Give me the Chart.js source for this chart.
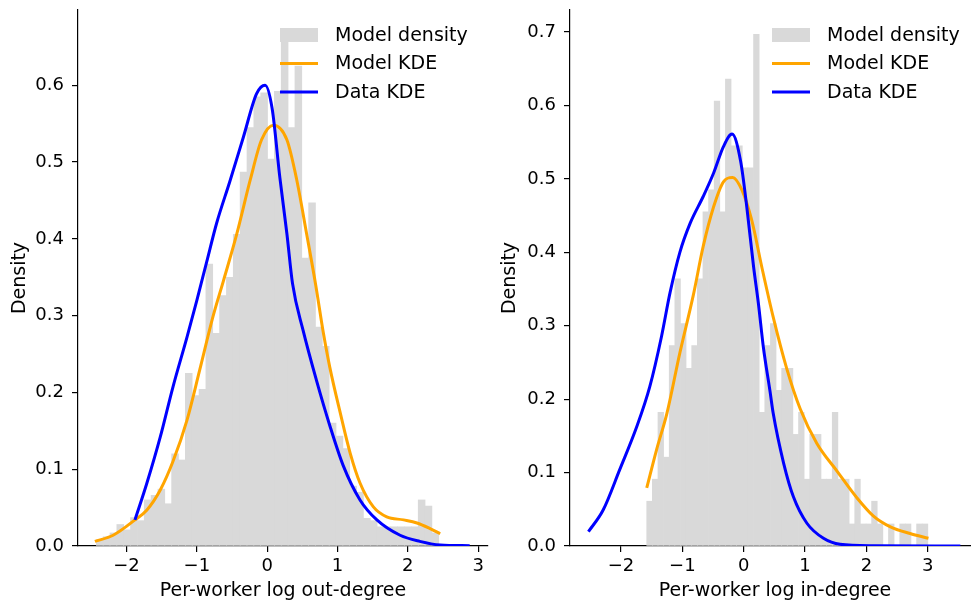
<!DOCTYPE html>
<html>
<head>
<meta charset="utf-8">
<script src="https://cdn.jsdelivr.net/npm/chart.js@4.4.1/dist/chart.umd.min.js"></script>
<style>
  html, body { margin: 0; padding: 0; background: #fff; overflow: hidden; }
  #wrap { position: relative; width: 971px; height: 606px; overflow: hidden; }
  #outChart { position: absolute; left: 0; top: 0; }
  #inChart { position: absolute; left: 490px; top: 0; }
</style>
</head>
<body>
<div id="wrap">
  <canvas id="outChart" width="490" height="606"></canvas>
  <canvas id="inChart" width="492" height="606"></canvas>
</div>
<script>
// left panel: log out-degree
var outBinStart = -2.43;
var outBinWidth = 0.0974;
var outDensity = [0.008, 0.012, 0.017, 0.028, 0.021, 0.037, 0.033, 0.060, 0.066, 0.074,
    0.055, 0.120, 0.112, 0.225, 0.196, 0.204, 0.367, 0.277, 0.326, 0.350,
    0.406, 0.487, 0.545, 0.585, 0.590, 0.504, 0.592, 0.665, 0.545, 0.625,
    0.375, 0.447, 0.285, 0.260, 0.160, 0.143, 0.127, 0.078, 0.070, 0.036,
    0.033, 0.025, 0.025, 0.025, 0.025, 0.025, 0.025, 0.060, 0.052, 0.017];
var outModelKdeX = [-2.45, -2.19, -1.88, -1.71, -1.52, -1.34, -1.14, -0.96, -0.77, -0.62, -0.43, -0.24,
    -0.08, 0.09, 0.28, 0.42, 0.56, 0.69, 0.80, 0.89, 1.04, 1.18, 1.32, 1.51, 1.70, 1.94, 2.13, 2.31, 2.46];
var outModelKdeY = [0.006, 0.014, 0.034, 0.047, 0.073, 0.110, 0.164, 0.229, 0.299, 0.346, 0.407, 0.477,
    0.529, 0.548, 0.529, 0.477, 0.407, 0.340, 0.277, 0.233, 0.173, 0.121, 0.082, 0.051, 0.038, 0.034, 0.030, 0.023, 0.016];
var outDataKdeX = [-1.88, -1.71, -1.52, -1.34, -1.14, -1.00, -0.86, -0.72, -0.53, -0.34, -0.15, -0.03,
    0.07, 0.18, 0.28, 0.36, 0.51, 0.70, 0.89, 1.08, 1.32, 1.56, 1.89, 2.17, 2.46, 2.88];
var outDataKdeY = [0.034, 0.082, 0.142, 0.207, 0.272, 0.320, 0.370, 0.420, 0.475, 0.532, 0.589, 0.600,
    0.570, 0.480, 0.407, 0.342, 0.281, 0.216, 0.157, 0.105, 0.060, 0.034, 0.014, 0.006, 0.0013, 0.0004];
var outXTicks = [-2, -1, 0, 1, 2, 3];
var outYTicks = [0, 0.1, 0.2, 0.3, 0.4, 0.5, 0.6];

// right panel: log in-degree
var inBinStart = -1.58;
var inBinWidth = 0.0916;
var inDensity = [0.061, 0.091, 0.182, 0.121, 0.273, 0.364, 0.303, 0.242, 0.273, 0.364,
    0.455, 0.485, 0.606, 0.455, 0.636, 0.545, 0.545, 0.515, 0.515, 0.697,
    0.182, 0.273, 0.303, 0.212, 0.242, 0.242, 0.152, 0.182, 0.091, 0.152,
    0.152, 0.091, 0.091, 0.182, 0.091, 0.091, 0.030, 0.091, 0.030, 0.030,
    0.061, 0.030, 0, 0.030, 0, 0.030, 0.030, 0, 0.030, 0.030];
var inModelKdeX = [-1.58, -1.42, -1.25, -1.04, -0.82, -0.66, -0.49, -0.33, -0.18, -0.03, 0.13, 0.30,
    0.48, 0.70, 0.92, 1.19, 1.52, 1.84, 2.11, 2.39, 2.71, 3.01];
var inModelKdeY = [0.079, 0.131, 0.181, 0.263, 0.342, 0.408, 0.462, 0.496, 0.502, 0.485, 0.444, 0.378,
    0.312, 0.242, 0.187, 0.140, 0.102, 0.066, 0.041, 0.026, 0.017, 0.0105];
var inDataKdeX = [-2.53, -2.29, -2.02, -1.74, -1.53, -1.34, -1.20, -1.04, -0.87, -0.66, -0.49,
    -0.33, -0.19, -0.05, 0.05, 0.16, 0.24, 0.32, 0.43, 0.48, 0.65, 0.81, 1.03, 1.30, 1.57, 2.11, 3.53];
var inDataKdeY = [0.0195, 0.049, 0.104, 0.163, 0.217, 0.285, 0.345, 0.400, 0.440, 0.476, 0.508,
    0.544, 0.561, 0.524, 0.462, 0.381, 0.330, 0.271, 0.210, 0.181, 0.113, 0.067, 0.031, 0.0105, 0.0023, 0.0004, 0];
var inXTicks = [-2, -1, 0, 1, 2, 3];
var inYTicks = [0, 0.1, 0.2, 0.3, 0.4, 0.5, 0.6, 0.7];

var FONT = 'DejaVu Sans';

function toPoints(xs, ys) {
    return xs.map(function (x, i) { return { x: x, y: ys[i] }; });
}

function minusSign(v) {
    return v < 0 ? '\u2212' + Math.abs(v) : String(v);
}

// matplotlib-style legend in the top right corner, no frame
var cornerLegend = {
    id: 'cornerLegend',
    afterDraw: function (chart) {
        var ctx = chart.ctx;
        var area = chart.chartArea;
        var sets = chart.data.datasets;
        var x0 = area.right - 208, x1 = area.right - 170, tx = area.right - 153;
        ctx.save();
        ctx.font = '19px "' + FONT + '"';
        ctx.textBaseline = 'middle';
        sets.forEach(function (ds, i) {
            var y = area.top + 25 + i * 28.5;
            if (ds.type === 'bar') {
                ctx.fillStyle = ds.backgroundColor;
                ctx.fillRect(x0, y - 7, x1 - x0, 14);
            } else {
                ctx.strokeStyle = ds.borderColor;
                ctx.lineWidth = ds.borderWidth;
                ctx.beginPath();
                ctx.moveTo(x0, y);
                ctx.lineTo(x1, y);
                ctx.stroke();
            }
            ctx.fillStyle = '#000';
            ctx.fillText(ds.label, tx, y + 1);
        });
        ctx.restore();
    }
};

function buildPanel(canvasId, p) {
    var bars = p.density.map(function (d, i) {
        return { x: p.binStart + (i + 0.5) * p.binWidth, y: d };
    });
    return new Chart(document.getElementById(canvasId).getContext('2d'), {
        type: 'bar',
        data: {
            datasets: [{
                type: 'bar',
                label: 'Model density',
                data: bars,
                backgroundColor: '#d9d9d9',
                borderWidth: 0,
                barPercentage: 1,
                categoryPercentage: 1,
                order: 3
            }, {
                type: 'line',
                label: 'Model KDE',
                data: toPoints(p.modelX, p.modelY),
                borderColor: '#ffa500',
                borderWidth: 3,
                pointRadius: 0,
                cubicInterpolationMode: 'monotone',
                order: 2
            }, {
                type: 'line',
                label: 'Data KDE',
                data: toPoints(p.dataX, p.dataY),
                borderColor: '#0000ff',
                borderWidth: 3,
                pointRadius: 0,
                cubicInterpolationMode: 'monotone',
                order: 1
            }]
        },
        options: {
            responsive: false,
            animation: false,
            events: [],
            layout: { padding: { top: 10, right: 2, left: 0, bottom: 0 } },
            plugins: { legend: { display: false }, tooltip: { enabled: false } },
            scales: {
                x: {
                    type: 'linear',
                    min: p.xMin,
                    max: p.xMax,
                    offset: false,
                    grid: { offset: false, drawOnChartArea: false, drawTicks: true, tickLength: 6, color: '#000', lineWidth: 1.2 },
                    border: { display: true, color: '#000', width: 1.2 },
                    ticks: {
                        color: '#000', padding: 4, maxRotation: 0, autoSkip: false,
                        font: { family: FONT, size: 18 },
                        callback: function (v) { return minusSign(v); }
                    },
                    title: {
                        display: true, text: p.xTitle, color: '#000',
                        font: { family: FONT, size: 19 }, padding: { top: 0, bottom: 4 }
                    },
                    afterBuildTicks: function (scale) {
                        scale.ticks = p.xTicks.map(function (v) { return { value: v }; });
                    },
                    afterFit: function (scale) { scale.height = 60; }
                },
                y: {
                    type: 'linear',
                    min: 0,
                    max: p.yMax,
                    grid: { drawOnChartArea: false, drawTicks: true, tickLength: 6, color: '#000', lineWidth: 1.2 },
                    border: { display: true, color: '#000', width: 1.2 },
                    ticks: {
                        color: '#000', padding: 8,
                        font: { family: FONT, size: 18 },
                        callback: function (v) { return v.toFixed(1); }
                    },
                    title: {
                        display: true, text: 'Density', color: '#000',
                        font: { family: FONT, size: 19 }, padding: { top: 9, bottom: 0 }
                    },
                    afterBuildTicks: function (scale) {
                        scale.ticks = p.yTicks.map(function (v) { return { value: v }; });
                    },
                    afterFit: function (scale) {
                        scale.width = p.yAxisWidth;
                        scale.paddingTop = 0;
                        scale.paddingBottom = 0;
                    }
                }
            }
        },
        plugins: [cornerLegend]
    });
}

document.addEventListener('DOMContentLoaded', function () {
    buildPanel('outChart', {
        binStart: outBinStart, binWidth: outBinWidth, density: outDensity,
        modelX: outModelKdeX, modelY: outModelKdeY, dataX: outDataKdeX, dataY: outDataKdeY,
        xTicks: outXTicks, yTicks: outYTicks,
        xMin: -2.69, xMax: 3.14, yMax: 0.698, yAxisWidth: 78,
        xTitle: 'Per-worker log out-degree'
    });
    buildPanel('inChart', {
        binStart: inBinStart, binWidth: inBinWidth, density: inDensity,
        modelX: inModelKdeX, modelY: inModelKdeY, dataX: inDataKdeX, dataY: inDataKdeY,
        xTicks: inXTicks, yTicks: inYTicks,
        xMin: -2.83, xMax: 3.85, yMax: 0.73, yAxisWidth: 80,
        xTitle: 'Per-worker log in-degree'
    });
});
</script>
</body>
</html>
